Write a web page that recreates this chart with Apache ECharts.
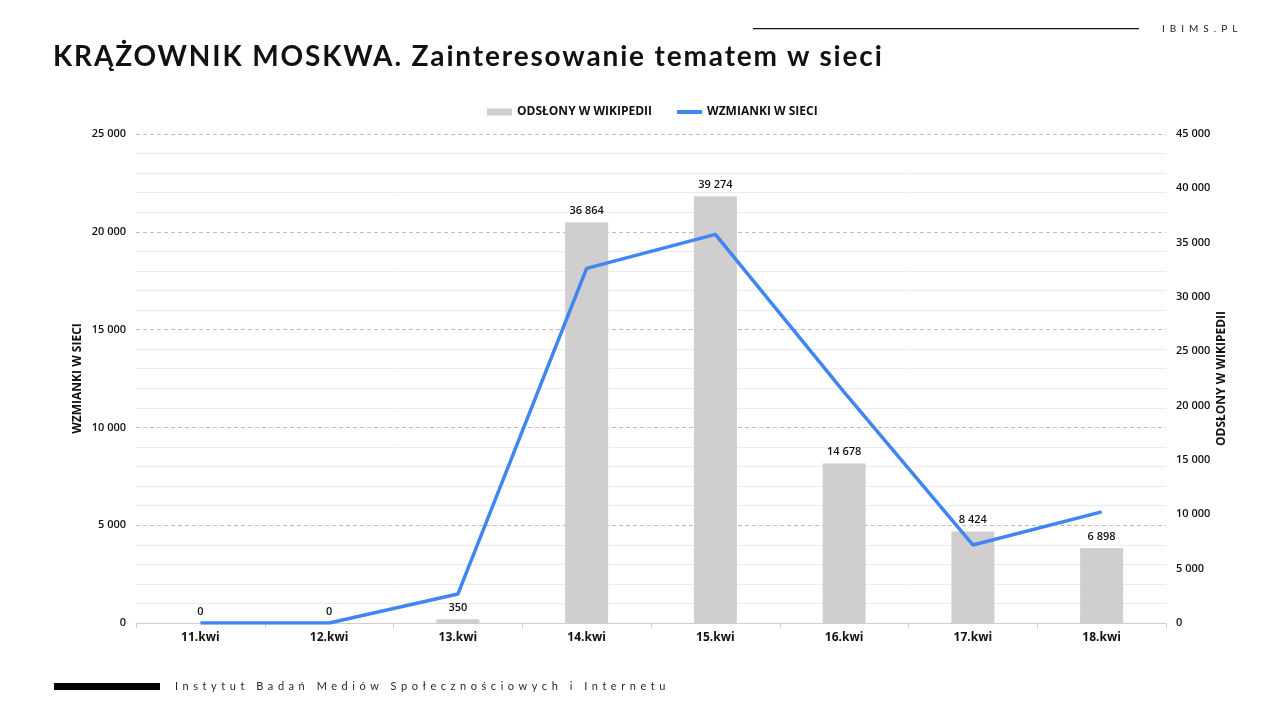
<!DOCTYPE html>
<html>
<head>
<meta charset="utf-8">
<script src="https://cdn.jsdelivr.net/npm/echarts@6/dist/echarts.min.js"></script>
<style>
  html, body { margin: 0; padding: 0; background: #fff; }
  #wrap { position: relative; width: 1280px; height: 720px; }
  #main { width: 1280px; height: 720px; }
  .title { position: absolute; left: 53px; top: 39px; font: bold 28px/32px "Lato", sans-serif; letter-spacing: 1.85px; color: #111; white-space: nowrap; }
  .brand { position: absolute; left: 1162px; top: 22px; font: 10px "Lato", sans-serif; letter-spacing: 5px; color: #222; }
  .foot { position: absolute; left: 175px; top: 679px; font: 11px "Lato", sans-serif; letter-spacing: 4.55px; color: #1a2333; white-space: nowrap; }
</style>
</head>
<body>
<div id="wrap">
  <div id="main"></div>
  <div class="title">KRĄŻOWNIK MOSKWA. Zainteresowanie tematem w sieci</div>
  <div class="brand">IBIMS.PL</div>
  <div class="foot">Instytut Badań Mediów Społecznościowych i Internetu</div>
</div>
<script>
// dane
var dni = ['11.kwi', '12.kwi', '13.kwi', '14.kwi', '15.kwi', '16.kwi', '17.kwi', '18.kwi'];
var odslony = [0, 0, 350, 36864, 39274, 14678, 8424, 6898]; // prawa oś
var wzmianki = [0, 0, 1480, 18130, 19870, 11800, 3990, 5680]; // lewa oś

// format 25 000
function fmt(v) {
  return String(v).replace(/\B(?=(\d{3})+(?!\d))/g, ' ');
}

var font = '"Open Sans", "Noto Sans", sans-serif';
var myChart = echarts.init(document.getElementById('main'));
var option = {
  animation: false,
  legend: {
    top: 101,
    left: 482,
    itemWidth: 25,
    itemHeight: 7,
    itemGap: 23,
    textStyle: { fontFamily: font, fontSize: 12, fontWeight: 'bold', color: '#111' },
    data: [
      { name: 'ODSŁONY W WIKIPEDII', icon: 'rect' },
      { name: 'WZMIANKI W SIECI', itemStyle: { opacity: 0 }, lineStyle: { width: 4, color: '#3F86F2' } }
    ]
  },
  grid: { left: 136, right: 114, top: 134, bottom: 97 },
  xAxis: {
    type: 'category',
    data: dni,
    axisLine: { lineStyle: { color: '#cfcfcf' } },
    axisTick: { show: true, length: 5, lineStyle: { color: '#cfcfcf' } },
    axisLabel: { fontFamily: font, fontSize: 12, fontWeight: 'bold', color: '#111', margin: 9 }
  },
  yAxis: [
    {
      type: 'value',
      min: 0, max: 25000, interval: 5000,
      name: 'WZMIANKI W SIECI',
      nameLocation: 'middle',
      nameGap: 52,
      nameMoveOverlap: false,
      nameTextStyle: { fontFamily: font, fontSize: 12, fontWeight: 'bold', color: '#111' },
      axisLine: { show: false },
      axisTick: { show: false },
      axisLabel: { fontFamily: font, fontSize: 11, fontWeight: 600, color: '#111', margin: 10, formatter: fmt },
      splitLine: { lineStyle: { color: '#bdbdbd', type: [4, 3] } },
      minorTick: { show: false, splitNumber: 5 },
      minorSplitLine: { show: true, lineStyle: { color: '#ececec' } }
    },
    {
      type: 'value',
      min: 0, max: 45000, interval: 5000,
      name: 'ODSŁONY W WIKIPEDII',
      nameLocation: 'middle',
      nameGap: 50,
      nameMoveOverlap: false,
      nameTextStyle: { fontFamily: font, fontSize: 12, fontWeight: 'bold', color: '#111' },
      axisLine: { show: false },
      axisTick: { show: false },
      axisLabel: { fontFamily: font, fontSize: 11, fontWeight: 600, color: '#111', margin: 10, formatter: fmt },
      splitLine: { show: false }
    }
  ],
  series: [
    {
      name: 'ODSŁONY W WIKIPEDII',
      type: 'bar',
      yAxisIndex: 1,
      barWidth: 43,
      data: odslony,
      itemStyle: { color: '#D0CECE' },
      label: {
        show: true,
        position: 'top',
        distance: 6,
        fontFamily: font, fontSize: 11, fontWeight: 600, color: '#111',
        formatter: function (p) { return fmt(p.value); }
      }
    },
    {
      name: 'WZMIANKI W SIECI',
      type: 'line',
      yAxisIndex: 0,
      data: wzmianki,
      showSymbol: false,
      symbol: 'none',
      z: 5,
      lineStyle: { color: '#3F86F2', width: 3.5 },
      itemStyle: { color: '#3F86F2' }
    }
  ],
  graphic: [
    { type: 'rect', shape: { x: 753, y: 28, width: 386, height: 1.2 }, style: { fill: '#111' } },
    { type: 'rect', shape: { x: 54, y: 683, width: 106, height: 7 }, style: { fill: '#000' } }
  ]
};
myChart.setOption(option);
</script>
</body>
</html>
